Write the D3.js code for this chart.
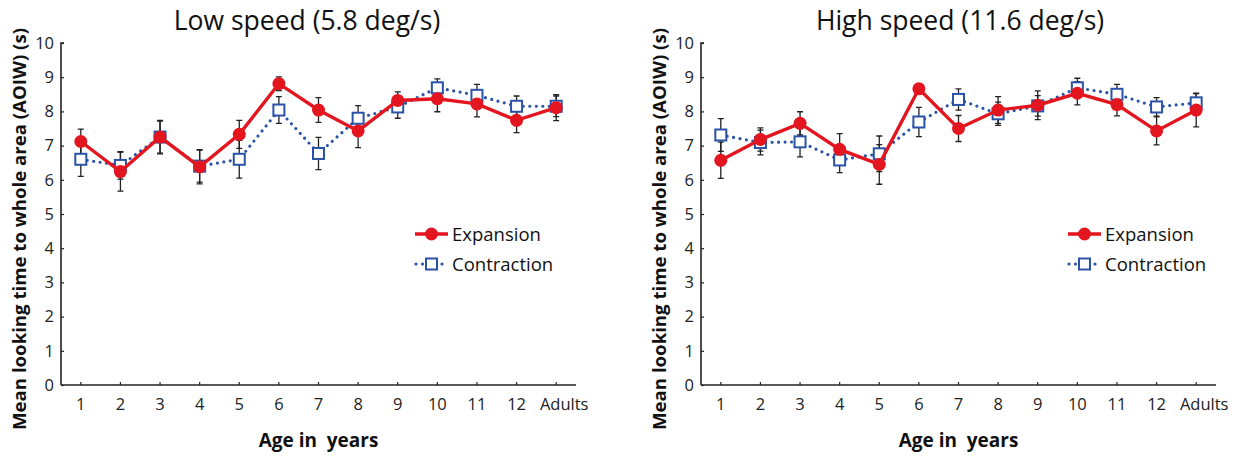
<!DOCTYPE html>
<html>
<head>
<meta charset="utf-8">
<script src="https://cdn.jsdelivr.net/npm/d3@7"></script>
<style>
  body { margin: 0; background: #fff; }
  svg { display: block; font-family: "Open Sans", "Noto Sans", sans-serif; }
</style>
</head>
<body>
<svg id="chart" width="1249" height="458"></svg>
<script>
// age groups on the x axis
const ages = ["1", "2", "3", "4", "5", "6", "7", "8", "9", "10", "11", "12", "Adults"];
const yTicks = [0, 1, 2, 3, 4, 5, 6, 7, 8, 9, 10];

// low speed (5.8 deg/s)
const lowExp = [7.12, 6.24, 7.25, 6.38, 7.33, 8.81, 8.04, 7.43, 8.32, 8.37, 8.22, 7.74, 8.11];
const lowExpErr = [0.36, 0.57, 0.47, 0.50, 0.41, 0.20, 0.36, 0.49, 0.25, 0.38, 0.38, 0.36, 0.38];
const lowCon = [6.60, 6.42, 7.25, 6.40, 6.60, 8.04, 6.77, 7.80, 8.13, 8.69, 8.47, 8.15, 8.15];
const lowConErr = [0.50, 0.40, 0.49, 0.47, 0.55, 0.39, 0.47, 0.37, 0.33, 0.26, 0.32, 0.30, 0.30];

// high speed (11.6 deg/s)
const highExp = [6.57, 7.18, 7.65, 6.89, 6.45, 8.66, 7.50, 8.04, 8.18, 8.53, 8.20, 7.43, 8.04];
const highExpErr = [0.53, 0.34, 0.34, 0.46, 0.58, 0.15, 0.38, 0.39, 0.42, 0.34, 0.33, 0.41, 0.49];
const highCon = [7.31, 7.09, 7.11, 6.58, 6.76, 7.69, 8.35, 7.93, 8.16, 8.69, 8.50, 8.13, 8.25];
const highConErr = [0.48, 0.36, 0.44, 0.37, 0.52, 0.43, 0.31, 0.34, 0.30, 0.28, 0.29, 0.27, 0.27];

const RED = "#e3161f";
const BLUE = "#2a52a6";

const svg = d3.select("#chart");

const panels = [
  { left: 61, title: "Low speed (5.8 deg/s)", titleX: 307, exp: lowExp, expErr: lowExpErr, con: lowCon, conErr: lowConErr, legX: 415 },
  { left: 701, title: "High speed (11.6 deg/s)", titleX: 960, exp: highExp, expErr: highExpErr, con: highCon, conErr: highConErr, legX: 1068 }
];

const plotW = 515, plotTop = 43, plotBottom = 385;

panels.forEach(p => {
  const x = d3.scaleBand().domain(ages).range([p.left, p.left + plotW]);
  const cx = d => x(d) + x.bandwidth() / 2;
  const y = d3.scaleLinear().domain([0, 10]).range([plotBottom, plotTop]);

  // title
  svg.append("text")
    .attr("x", p.titleX).attr("y", 30)
    .attr("text-anchor", "middle")
    .attr("font-size", 26.5)
    .attr("fill", "#111")
    .text(p.title);

  // y axis
  const ya = svg.append("g")
    .attr("transform", `translate(${p.left},0)`)
    .call(d3.axisRight(y).tickValues(yTicks).tickSize(3).tickFormat(d3.format("d")))
    .attr("font-family", null).attr("font-size", null);
  ya.select(".domain").attr("d", `M3,${plotTop}H0V${plotBottom}`).attr("stroke", "#222").attr("stroke-width", 1.6);
  ya.selectAll(".tick line").attr("stroke", "#222").attr("stroke-width", 1.2);
  ya.selectAll(".tick text")
    .attr("x", -7).attr("text-anchor", "end")
    .attr("font-size", 16.5).attr("fill", "#222");

  // x axis
  const xa = svg.append("g")
    .attr("transform", `translate(0,${plotBottom})`)
    .call(d3.axisTop(x).tickSize(3))
    .attr("font-family", null).attr("font-size", null);
  xa.select(".domain").attr("d", `M${p.left},0H${p.left + plotW}`).attr("stroke", "#222").attr("stroke-width", 1.6);
  xa.selectAll(".tick line").attr("stroke", "#222").attr("stroke-width", 1.2);
  xa.selectAll(".tick text")
    .attr("y", 25).attr("font-size", 16.5).attr("fill", "#222")
    .attr("dx", d => d === "Adults" ? 8 : 0);

  // axis titles
  svg.append("text")
    .attr("x", p.left + plotW / 2).attr("y", 447)
    .attr("text-anchor", "middle")
    .attr("font-size", 19).attr("font-weight", "bold").attr("fill", "#111")
    .style("white-space", "pre")
    .text("Age in  years");

  svg.append("text")
    .attr("transform", `translate(${p.left - 35},229) rotate(-90)`)
    .attr("text-anchor", "middle")
    .attr("font-size", 18).attr("font-weight", "bold").attr("fill", "#111")
    .attr("textLength", 402).attr("lengthAdjust", "spacingAndGlyphs")
    .text("Mean looking time to whole area (AOIW) (s)");

  // error bars
  const bars = [];
  p.exp.forEach((v, i) => bars.push({ age: ages[i], v, e: p.expErr[i] }));
  p.con.forEach((v, i) => bars.push({ age: ages[i], v, e: p.conErr[i] }));
  const eb = svg.append("g").attr("stroke", "#222").attr("stroke-width", 1.3).attr("fill", "none");
  eb.selectAll("path").data(bars).join("path")
    .attr("d", d => {
      const xx = cx(d.age), y1 = y(d.v + d.e), y0 = y(d.v - d.e);
      return `M${xx},${y0}V${y1}M${xx - 3},${y1}H${xx + 3}M${xx - 3},${y0}H${xx + 3}`;
    });

  const line = d3.line().x((d, i) => cx(ages[i])).y(d => y(d));

  // contraction
  svg.append("path").datum(p.con)
    .attr("d", line).attr("fill", "none")
    .attr("stroke", BLUE).attr("stroke-width", 3.2)
    .attr("stroke-linecap", "round").attr("stroke-dasharray", "0 6.5");
  svg.append("g").selectAll("rect").data(p.con).join("rect")
    .attr("x", (d, i) => cx(ages[i]) - 5.5).attr("y", d => y(d) - 5.5)
    .attr("width", 11).attr("height", 11)
    .attr("fill", "#fff").attr("stroke", BLUE).attr("stroke-width", 2);

  // expansion
  svg.append("path").datum(p.exp)
    .attr("d", line).attr("fill", "none")
    .attr("stroke", RED).attr("stroke-width", 3.4);
  svg.append("g").selectAll("circle").data(p.exp).join("circle")
    .attr("cx", (d, i) => cx(ages[i])).attr("cy", d => y(d))
    .attr("r", 6.5).attr("fill", RED);

  // legend
  const lg = svg.append("g").attr("transform", `translate(${p.legX},0)`);
  lg.append("line").attr("x1", 0).attr("x2", 33).attr("y1", 234).attr("y2", 234)
    .attr("stroke", RED).attr("stroke-width", 3.4);
  lg.append("circle").attr("cx", 16.5).attr("cy", 234).attr("r", 6.5).attr("fill", RED);
  lg.append("text").attr("x", 37).attr("y", 240.5)
    .attr("font-size", 18.5).attr("fill", "#111").text("Expansion");

  lg.append("line").attr("x1", 1).attr("x2", 33).attr("y1", 264).attr("y2", 264)
    .attr("stroke", BLUE).attr("stroke-width", 3.2)
    .attr("stroke-linecap", "round").attr("stroke-dasharray", "0 6.5");
  lg.append("rect").attr("x", 11).attr("y", 258.5).attr("width", 11).attr("height", 11)
    .attr("fill", "#fff").attr("stroke", BLUE).attr("stroke-width", 2);
  lg.append("text").attr("x", 37).attr("y", 270.5)
    .attr("font-size", 18.5).attr("fill", "#111").text("Contraction");
});
</script>
</body>
</html>
